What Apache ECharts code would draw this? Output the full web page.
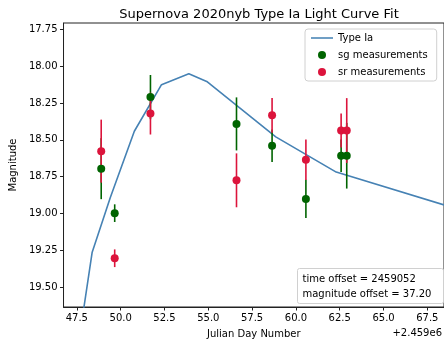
<!DOCTYPE html>
<html>
<head>
<meta charset="utf-8">
<script src="https://cdn.jsdelivr.net/npm/echarts@6/dist/echarts.min.js"></script>
<style>
html, body { margin: 0; padding: 0; background: #fff; }
#main { width: 444px; height: 347px; }
</style>
</head>
<body>
<div id="main"></div>
<script>
// days since 2459000 (axis offset shown as +2.459e6)
var fitTime = [47.85, 48.375, 49.41, 50.78, 52.33, 53.89, 54.91, 58.85, 62.30, 68.45];
var fitMag  = [19.68, 19.263, 18.892, 18.442, 18.126, 18.052, 18.104, 18.48, 18.719, 18.942];

var sgTime = [48.89, 49.66, 51.70, 56.61, 58.64, 60.57, 62.58, 62.90];
var sgMag  = [18.696, 18.998, 18.21, 18.392, 18.54, 18.901, 18.608, 18.608];
var sgErr  = [0.207, 0.06, 0.15, 0.18, 0.11, 0.13, 0.11, 0.223];

var srTime = [48.89, 49.66, 51.70, 56.61, 58.64, 60.57, 62.58, 62.90];
var srMag  = [18.577, 19.304, 18.322, 18.775, 18.334, 18.635, 18.437, 18.437];
var srErr  = [0.214, 0.06, 0.142, 0.183, 0.118, 0.137, 0.115, 0.22];

var xTicks = [47.5, 50.0, 52.5, 55.0, 57.5, 60.0, 62.5, 65.0, 67.5];
var yTicks = [17.75, 18.00, 18.25, 18.50, 18.75, 19.00, 19.25, 19.50];

var FONT = 'DejaVu Sans';
var GREEN = '#006400';
var RED = '#dc143c';
var BLUE = '#4682b4';

function pairs(xs, ys) {
    return xs.map(function (x, i) { return [x, ys[i]]; });
}
function bars(xs, ys, es) {
    return xs.map(function (x, i) { return [x, ys[i] - es[i], ys[i] + es[i]]; });
}
function errRender(color) {
    return function (params, api) {
        var p1 = api.coord([api.value(0), api.value(1)]);
        var p2 = api.coord([api.value(0), api.value(2)]);
        return {
            type: 'line',
            shape: { x1: p1[0], y1: p1[1], x2: p2[0], y2: p2[1] },
            style: { stroke: color, lineWidth: 1.6 }
        };
    };
}

var myChart = echarts.init(document.getElementById('main'));
myChart.setOption({
    animation: false,
    title: {
        text: 'Supernova 2020nyb Type Ia Light Curve Fit',
        left: 254, top: 3, textAlign: 'center',
        textStyle: { fontFamily: FONT, fontSize: 13, fontWeight: 'normal', color: '#000' }
    },
    grid: {
        left: 63, top: 23, width: 382, height: 284,
        show: true, borderColor: '#222', borderWidth: 1
    },
    legend: {
        left: 305, top: 29,
        orient: 'vertical',
        backgroundColor: '#fff',
        borderColor: '#d0d0d0', borderWidth: 1, borderRadius: 3,
        padding: [4, 9, 4, 6],
        itemWidth: 22, itemHeight: 8, itemGap: 7,
        textStyle: { fontFamily: FONT, fontSize: 10, color: '#000' },
        data: [
            { name: 'Type Ia', icon: 'path://M0,0L1,0L1,0.07L0,0.07Z' },
            { name: 'sg measurements', icon: 'circle' },
            { name: 'sr measurements', icon: 'circle' }
        ]
    },
    xAxis: {
        type: 'value',
        min: 46.74, max: 68.45,
        name: 'Julian Day Number',
        nameLocation: 'middle', nameGap: 22,
        nameTextStyle: { fontFamily: FONT, fontSize: 10, color: '#000' },
        splitLine: { show: false },
        axisLine: { onZero: false, lineStyle: { color: '#222', width: 1 } },
        axisTick: { customValues: xTicks, length: 3.5, lineStyle: { color: '#222' } },
        axisLabel: {
            customValues: xTicks, fontFamily: FONT, fontSize: 10, color: '#000', margin: 6,
            formatter: function (v) { return v.toFixed(1); }
        }
    },
    yAxis: {
        type: 'value',
        inverse: true,
        min: 17.707, max: 19.635,
        name: 'Magnitude',
        nameLocation: 'middle', nameGap: 45, nameRotate: 90,
        nameTextStyle: { fontFamily: FONT, fontSize: 10, color: '#000' },
        splitLine: { show: false },
        axisLine: { onZero: false, lineStyle: { color: '#222', width: 1 } },
        axisTick: { customValues: yTicks, length: 3.5, lineStyle: { color: '#222' } },
        axisLabel: {
            customValues: yTicks, fontFamily: FONT, fontSize: 10, color: '#000', margin: 6,
            formatter: function (v) { return v.toFixed(2); }
        }
    },
    graphic: [
        {
            type: 'text', right: 2, top: 328,
            style: { text: '+2.459e6', fontFamily: FONT, fontSize: 10, fill: '#000' }
        },
        {
            type: 'group', left: 297, top: 268,
            children: [
                {
                    type: 'rect', shape: { x: 0, y: 0, width: 146, height: 35, r: 2 },
                    style: { fill: '#fff', stroke: '#d0d0d0', lineWidth: 1 }
                },
                {
                    type: 'text', x: 5, y: 3,
                    style: {
                        text: 'time offset = 2459052\nmagnitude offset = 37.20',
                        fontFamily: FONT, fontSize: 10, lineHeight: 15, fill: '#000'
                    }
                }
            ]
        }
    ],
    series: [
        {
            name: 'Type Ia',
            type: 'line',
            data: pairs(fitTime, fitMag),
            symbol: 'none',
            lineStyle: { color: BLUE, width: 1.6 },
            itemStyle: { color: BLUE },
            z: 2
        },
        {
            name: 'sg err', type: 'custom', clip: true, z: 3,
            renderItem: errRender(GREEN),
            data: bars(sgTime, sgMag, sgErr)
        },
        {
            name: 'sr err', type: 'custom', clip: true, z: 3,
            renderItem: errRender(RED),
            data: bars(srTime, srMag, srErr)
        },
        {
            name: 'sg measurements',
            type: 'scatter',
            symbolSize: 8,
            itemStyle: { color: GREEN, opacity: 1 },
            data: pairs(sgTime, sgMag),
            z: 4
        },
        {
            name: 'sr measurements',
            type: 'scatter',
            symbolSize: 8,
            itemStyle: { color: RED, opacity: 1 },
            data: pairs(srTime, srMag),
            z: 4
        }
    ]
});
</script>
</body>
</html>
